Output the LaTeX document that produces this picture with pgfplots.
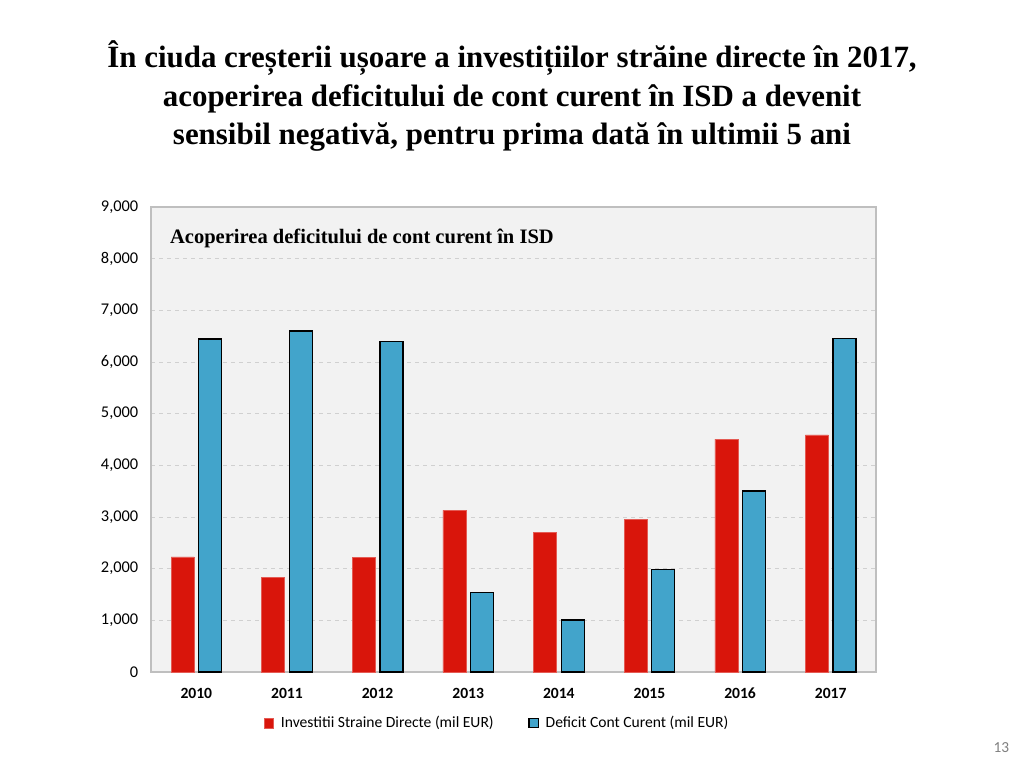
\documentclass[border=0pt]{standalone}
\usepackage{fontspec}
\usepackage{pgfplots}
\pgfplotsset{compat=1.18}
\setmainfont{Carlito}
\newfontfamily\georgia{Liberation Serif}
\definecolor{redbar}{HTML}{D9150B}
\definecolor{bluebar}{HTML}{42A4CB}
\definecolor{plotbg}{HTML}{F2F2F2}
\definecolor{bordergrey}{HTML}{BFBFBF}
\definecolor{gridgrey}{HTML}{D0D0D0}
\begin{document}
\begin{tikzpicture}
\path[use as bounding box, fill=white] (0,0) rectangle (768pt,576pt);
\node[font=\georgia\bfseries\fontsize{23.2}{29}\selectfont, align=center] at (384pt,504pt)
  {În ciuda creșterii ușoare a investițiilor străine directe în 2017,\\
   acoperirea deficitului de cont curent în ISD a devenit\\
   sensibil negativă, pentru prima dată în ultimii 5 ani};
\node[font=\fontsize{11.5}{13}\selectfont, text=gray] at (751pt,15pt) {13};
\begin{axis}[
  at={(113.25pt,72pt)}, anchor=south west, scale only axis,
  width=543.75pt, height=348.75pt,
  xmin=-0.5, xmax=7.5, ymin=0, ymax=9000,
  xtick={0,1,2,3,4,5,6,7},
  xticklabels={2010,2011,2012,2013,2014,2015,2016,2017},
  ytick={0,1000,2000,3000,4000,5000,6000,7000,8000,9000},
  major tick length=0pt,
  axis background/.style={fill=plotbg},
  axis line style={draw=bordergrey, line width=0.8pt},
  ymajorgrids, grid style={dashed, gridgrey, line width=0.6pt},
  /pgf/number format/.cd, 1000 sep={,}, assume math mode=true,
  /pgfplots/.cd,
  ticklabel style={font=\fontsize{12.3}{14}\selectfont},
  xticklabel style={font=\bfseries\fontsize{11.7}{13}\selectfont, text height=8pt, text depth=0pt, yshift=-8pt},
  yticklabel style={xshift=-6pt},
  ybar, bar width=17.25pt,
  legend style={draw=none, fill=none, at={(0.478,-0.11)}, anchor=center,
    legend columns=2, font=\fontsize{11.7}{13}\selectfont,
    /tikz/every even column/.append style={column sep=24pt},
    /tikz/every odd column/.append style={inner sep=1pt}},
  legend image code/.code={\draw[#1] (0pt,-3.5pt) rectangle (7pt,3.5pt); \path[draw=none, fill=none] (0pt,0pt) -- (10.5pt,0pt);},
]
\addplot[fill=redbar, draw=redbar!70!white, bar shift=-10.3pt] coordinates {
  (0,2230) (1,1835) (2,2215) (3,3130) (4,2695) (5,2950) (6,4505) (7,4590)};
\addlegendentry{Investitii Straine Directe (mil EUR)}
\addplot[fill=bluebar, draw=black, line width=0.9pt, bar shift=10.4pt] coordinates {
  (0,6445) (1,6600) (2,6390) (3,1535) (4,1005) (5,1980) (6,3505) (7,6460)};
\addlegendentry{Deficit Cont Curent (mil EUR)}
\node[anchor=west, inner sep=0pt, font=\georgia\bfseries\fontsize{15.4}{18}\selectfont] at (rel axis cs:0.026,0.933) {Acoperirea deficitului de cont curent în ISD};
\end{axis}
\end{tikzpicture}
\end{document}
